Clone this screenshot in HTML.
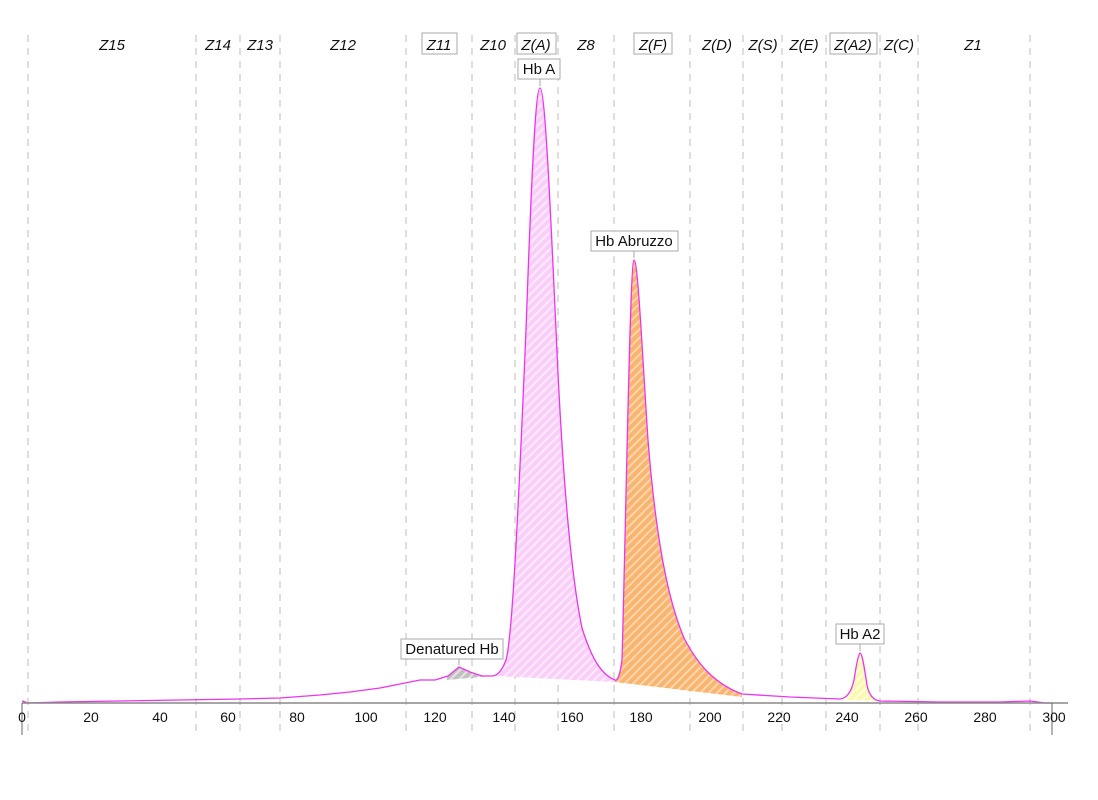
<!DOCTYPE html>
<html><head><meta charset="utf-8"><style>
html,body{margin:0;padding:0;background:#fff;}
svg{display:block;font-family:"Liberation Sans",Arial,sans-serif;}
</style></head><body>
<svg width="1098" height="800" viewBox="0 0 1098 800" xmlns="http://www.w3.org/2000/svg">
<defs>
<pattern id="hp" width="6" height="6" patternUnits="userSpaceOnUse" patternTransform="rotate(45)">
<rect width="6" height="6" fill="#f9cff9"/><rect width="2" height="6" fill="#fdeafd"/></pattern>
<pattern id="ho" width="6" height="6" patternUnits="userSpaceOnUse" patternTransform="rotate(45)">
<rect width="6" height="6" fill="#f9b46e"/><rect width="2" height="6" fill="#fcd6ae"/></pattern>
<pattern id="hg" width="6" height="6" patternUnits="userSpaceOnUse" patternTransform="rotate(45)">
<rect width="6" height="6" fill="#c0c0c0"/><rect width="2" height="6" fill="#e2e2e2"/></pattern>
<pattern id="hy" width="6" height="6" patternUnits="userSpaceOnUse" patternTransform="rotate(45)">
<rect width="6" height="6" fill="#fbf8b0"/><rect width="2" height="6" fill="#fefde0"/></pattern>
<clipPath id="cA"><polygon points="495,0 615,0 615,682 495,676"/></clipPath>
<clipPath id="cB"><polygon points="615,0 742,0 742,697 615,682"/></clipPath>
<clipPath id="cD"><polygon points="447,0 492,0 492,676 447,680"/></clipPath>
<clipPath id="cE"><polygon points="846,0 878,0 878,701 846,700"/></clipPath>
<path id="curve" d="M22,701 L28,703 L60,702 L120,701 L180,700 L240,699 L280,698 L320,695 L350,692 L380,688 L405,683 L420,680 L435,680 L448,676 L459,667 L470,672 L482,676 L492,676 Q500,676 506,660 C512,640 518,520 526,330 C532,160 536,88 540,88 C545,88 550,200 556,330 C562,470 570,570 582,628 C592,660 602,675 615,680 Q619,682 622,660 C626,520 630,260 634,260 C638,260 642,350 648,440 C656,540 668,600 684,638 C698,665 715,684 742,694 L790,697 L840,699 Q850,698 854,680 C857,660 859,653 860,653 C862,653 864,665 867,685 Q870,700 880,701 L940,702 L1000,702 L1030,701 L1045,703 L1052,703"/>
</defs>
<g stroke="#c8c8c8" stroke-width="1.2" stroke-dasharray="7,6">
<line x1="28" y1="35" x2="28" y2="735"/><line x1="196" y1="35" x2="196" y2="735"/><line x1="240" y1="35" x2="240" y2="735"/><line x1="280" y1="35" x2="280" y2="735"/><line x1="406" y1="35" x2="406" y2="735"/><line x1="472" y1="35" x2="472" y2="735"/><line x1="515" y1="35" x2="515" y2="735"/><line x1="558" y1="35" x2="558" y2="735"/><line x1="614" y1="35" x2="614" y2="735"/><line x1="690" y1="35" x2="690" y2="735"/><line x1="743" y1="35" x2="743" y2="735"/><line x1="782" y1="35" x2="782" y2="735"/><line x1="826" y1="35" x2="826" y2="735"/><line x1="880" y1="35" x2="880" y2="735"/><line x1="918" y1="35" x2="918" y2="735"/><line x1="1030" y1="35" x2="1030" y2="735"/>
</g>
<g font-size="15" font-style="italic" text-anchor="middle" fill="#111">
<text x="112" y="50">Z15</text><text x="218" y="50">Z14</text><text x="260" y="50">Z13</text><text x="343" y="50">Z12</text>
<rect x="422" y="33" width="35" height="21" fill="#fff" stroke="#aaa"/><text x="439" y="50">Z11</text>
<text x="493" y="50">Z10</text>
<rect x="517" y="33" width="39" height="21" fill="#fff" stroke="#aaa"/><text x="536" y="50">Z(A)</text>
<text x="586" y="50">Z8</text>
<rect x="634" y="33" width="38" height="21" fill="#fff" stroke="#aaa"/><text x="653" y="50">Z(F)</text>
<text x="717" y="50">Z(D)</text><text x="763" y="50">Z(S)</text><text x="804" y="50">Z(E)</text>
<rect x="830" y="33" width="47" height="21" fill="#fff" stroke="#aaa"/><text x="853" y="50">Z(A2)</text>
<text x="899" y="50">Z(C)</text><text x="973" y="50">Z1</text>
</g>
<use href="#curve" fill="url(#hp)" clip-path="url(#cA)"/>
<use href="#curve" fill="url(#ho)" clip-path="url(#cB)"/>
<use href="#curve" fill="url(#hg)" clip-path="url(#cD)"/>
<use href="#curve" fill="url(#hy)" clip-path="url(#cE)"/>
<use href="#curve" fill="none" stroke="#ee33ee" stroke-width="1.3"/>
<line x1="22" y1="703" x2="1068" y2="703" stroke="#888" stroke-width="1.5"/>
<line x1="22" y1="703" x2="22" y2="735" stroke="#666"/>
<line x1="1052" y1="703" x2="1052" y2="735" stroke="#666"/>
<g font-size="14" text-anchor="middle" fill="#111">
<text x="22" y="722">0</text><text x="91" y="722">20</text><text x="160" y="722">40</text><text x="228" y="722">60</text><text x="297" y="722">80</text><text x="366" y="722">100</text><text x="435" y="722">120</text><text x="504" y="722">140</text><text x="572" y="722">160</text><text x="641" y="722">180</text><text x="710" y="722">200</text><text x="779" y="722">220</text><text x="847" y="722">240</text><text x="916" y="722">260</text><text x="985" y="722">280</text><text x="1054" y="722">300</text>
</g>
<g font-size="15" text-anchor="middle" fill="#111">
<line x1="540" y1="79" x2="540" y2="86" stroke="#aaa"/>
<rect x="518" y="59" width="42" height="20" fill="#fff" stroke="#aaa"/><text x="539" y="74">Hb A</text>
<line x1="634" y1="251" x2="634" y2="258" stroke="#aaa"/>
<rect x="591" y="231" width="87" height="20" fill="#fff" stroke="#aaa"/><text x="634" y="246">Hb Abruzzo</text>
<line x1="459" y1="659" x2="459" y2="665" stroke="#aaa"/>
<rect x="401" y="639" width="102" height="20" fill="#fff" stroke="#aaa"/><text x="452" y="654">Denatured Hb</text>
<line x1="860" y1="644" x2="860" y2="651" stroke="#aaa"/>
<rect x="836" y="624" width="48" height="20" fill="#fff" stroke="#aaa"/><text x="860" y="639">Hb A2</text>
</g>
</svg>
</body></html>
